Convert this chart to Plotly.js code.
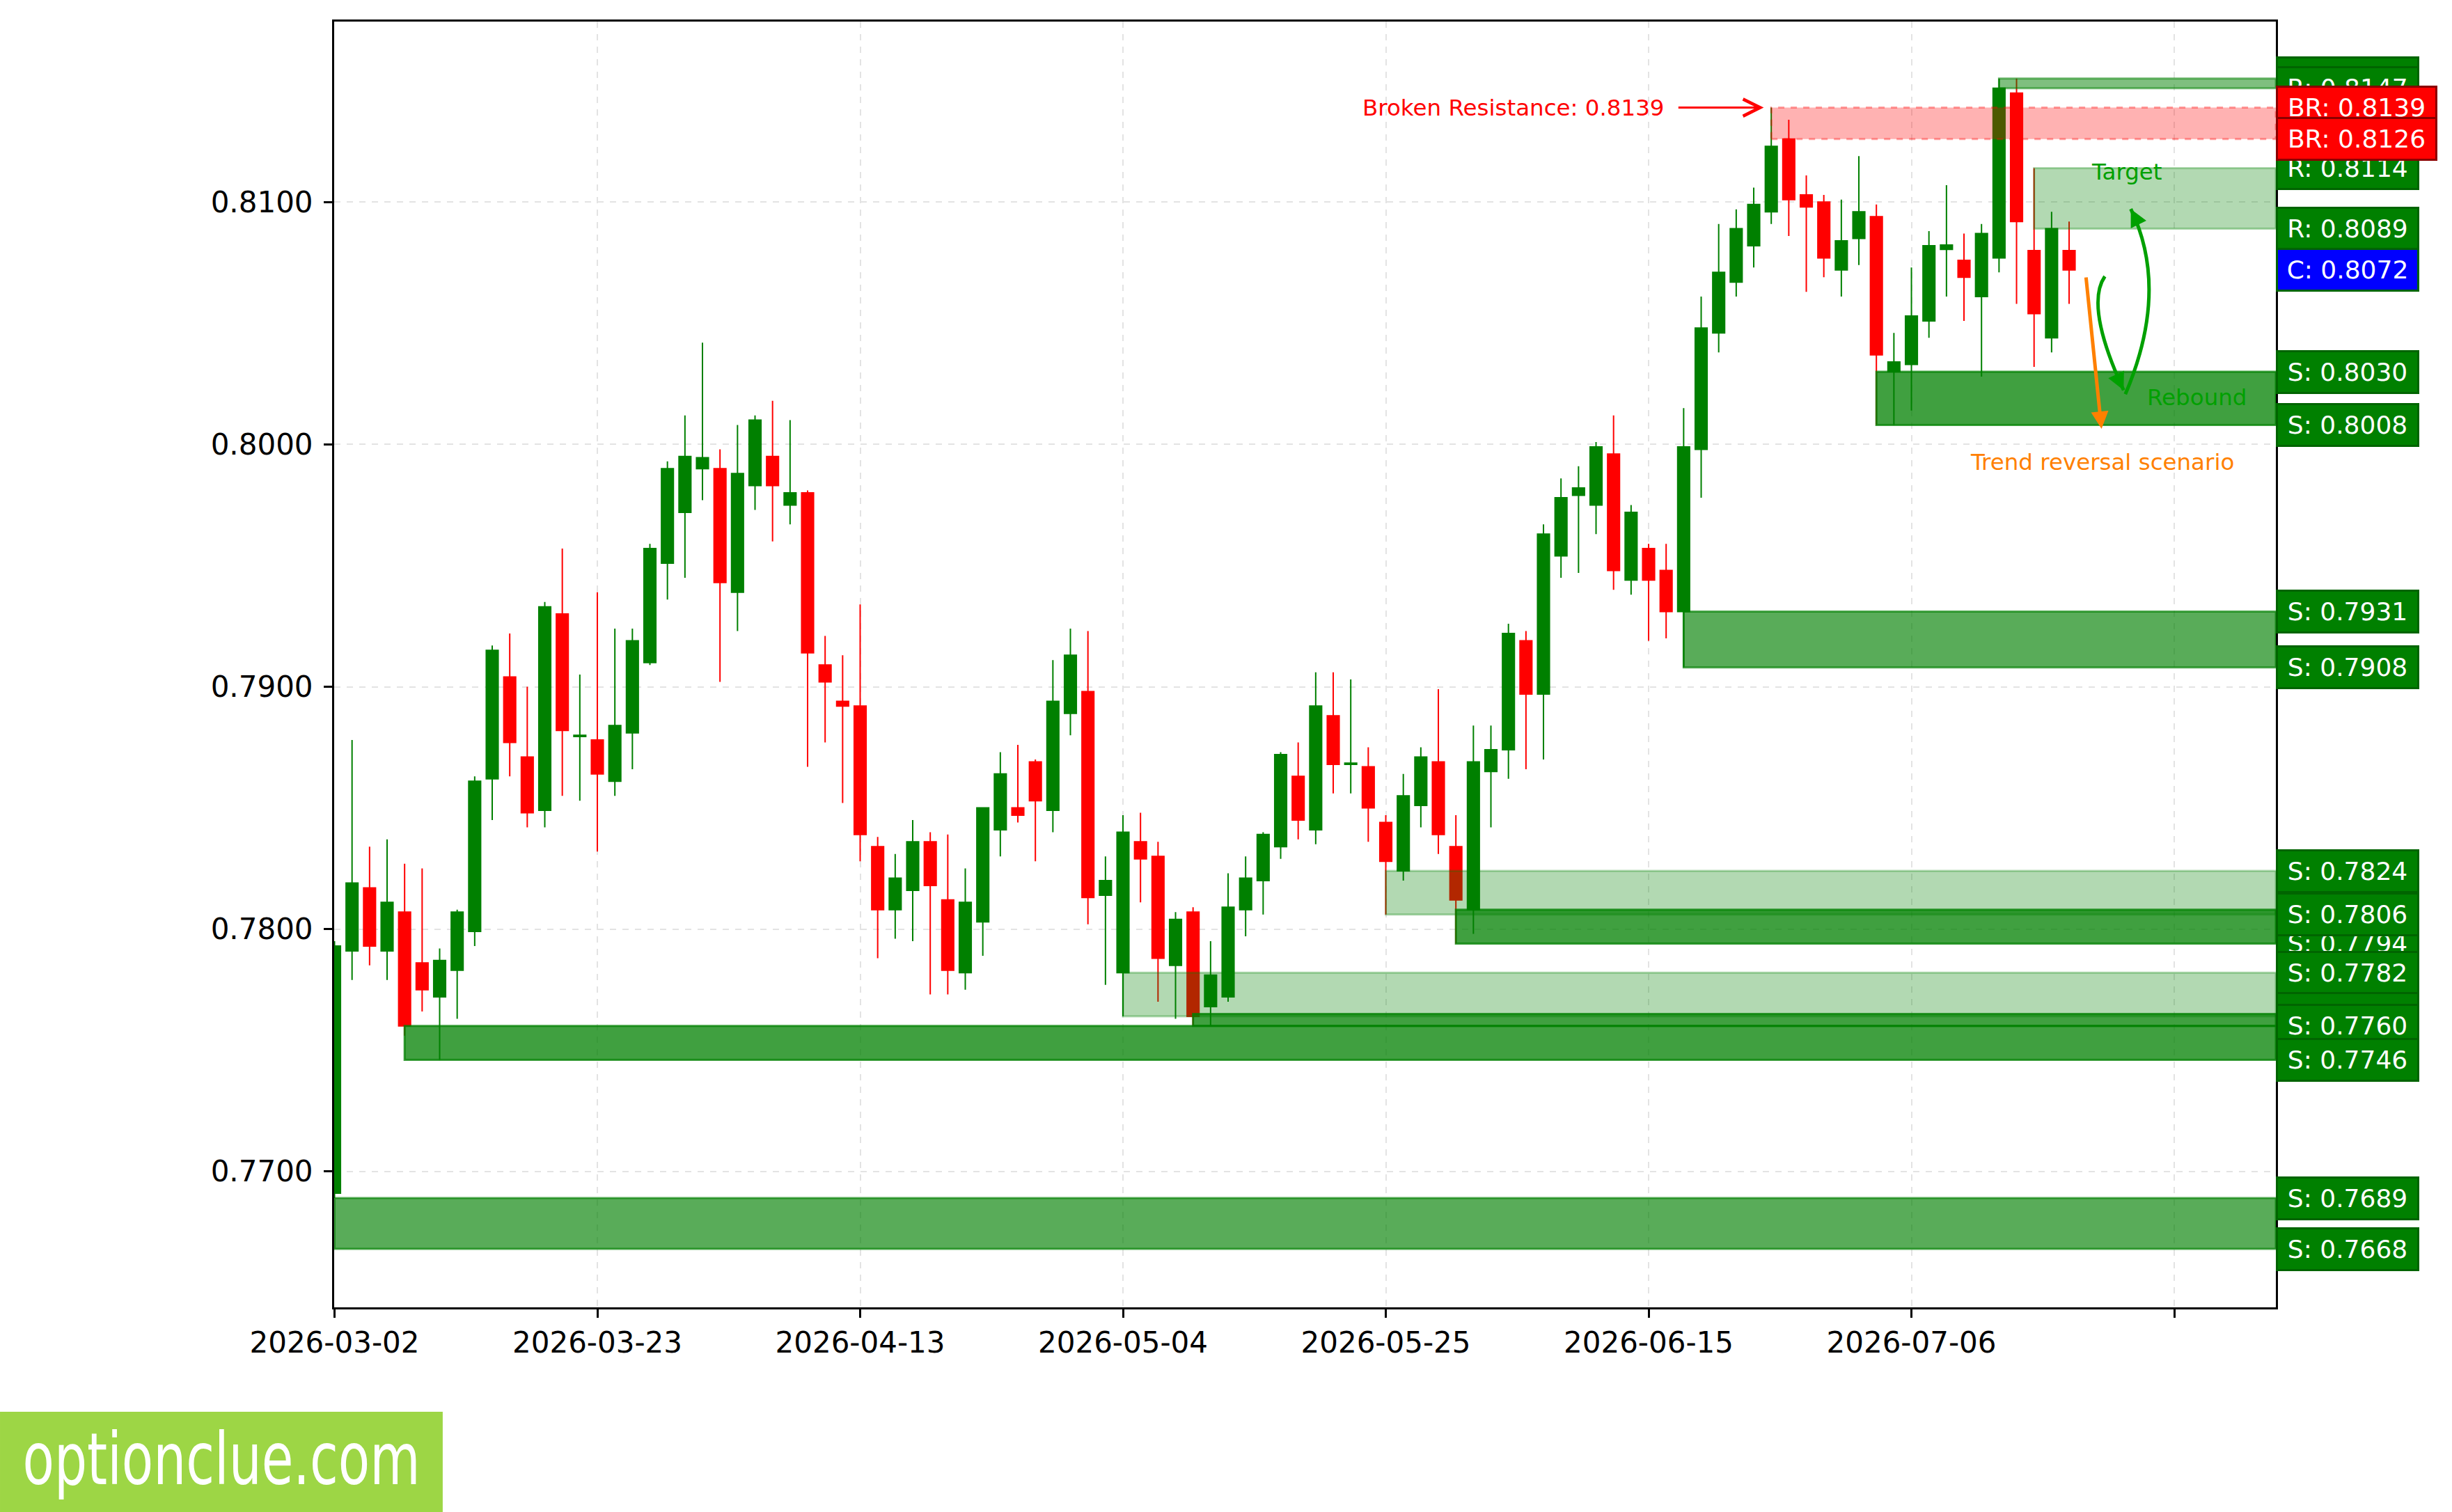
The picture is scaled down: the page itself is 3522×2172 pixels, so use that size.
<!DOCTYPE html>
<html>
<head>
<meta charset="utf-8">
<script src="https://cdn.plot.ly/plotly-3.0.1.min.js"></script>
<style>
html, body { margin: 0; padding: 0; background: #ffffff; }
#chart { width: 3522px; height: 2172px; }
</style>
</head>
<body>
<div id="chart"></div>
<script>
// ---------------- DATA ----------------
const opens = [
0.7691,0.7791,0.7817,0.7791,0.7807,0.7786,0.7772,0.7783,0.7799,0.7862,
0.7904,0.7871,0.7849,0.7930,0.78795,0.7878,0.7861,0.7881,0.7910,0.7951,
0.7972,0.7990,0.7990,0.7939,0.7983,0.7995,0.7975,0.7980,0.7909,0.7894,
0.7892,0.7834,0.7808,0.7816,0.7836,0.7812,0.7782,0.7803,0.7841,0.7850,
0.7869,0.7849,0.7889,0.7898,0.7814,0.7782,0.7836,0.7830,0.7785,0.7807,
0.7768,0.7772,0.7808,0.7820,0.7834,0.7863,0.7841,0.7888,0.7868,0.7867,
0.7844,0.7824,0.7851,0.7869,0.7834,0.7808,0.7865,0.7874,0.7919,0.7897,
0.7954,0.7979,0.7975,0.7996,0.7944,0.7957,0.7948,0.7931,0.7998,0.8046,
0.8067,0.8082,0.8096,0.8126,0.8103,0.8100,0.8072,0.8085,0.8094,0.8030,
0.8033,0.8051,0.80805,0.8076,0.8061,0.8077,0.8145,0.8080,0.8044,0.8080
];
const highs = [
0.7795,0.7878,0.7834,0.7837,0.7827,0.7825,0.7792,0.7808,0.7863,0.7917,
0.7922,0.7900,0.7935,0.7957,0.7905,0.7939,0.7924,0.7924,0.7959,0.7993,
0.8012,0.8042,0.7998,0.8008,0.8012,0.8018,0.8010,0.7981,0.7921,0.7913,
0.7934,0.7838,0.7831,0.7845,0.7840,0.7839,0.7825,0.7850,0.7873,0.7876,
0.7870,0.7911,0.7924,0.7923,0.7830,0.7847,0.7848,0.7836,0.7807,0.7809,
0.7795,0.7823,0.7830,0.7840,0.7873,0.7877,0.7906,0.7906,0.7903,0.7875,
0.7847,0.7864,0.7875,0.7899,0.7847,0.7884,0.7884,0.7926,0.7923,0.7967,
0.7986,0.7991,0.8001,0.8012,0.7975,0.7959,0.7959,0.8015,0.8061,0.8091,
0.8097,0.8106,0.8139,0.8134,0.8111,0.8103,0.8101,0.8119,0.8099,0.8046,
0.8073,0.8088,0.8107,0.8087,0.8091,0.8151,0.8151,0.8114,0.8096,0.8092
];
const lows = [
0.7689,0.7779,0.7785,0.7779,0.7756,0.7766,0.7746,0.7763,0.7793,0.7845,
0.7863,0.7842,0.7842,0.7855,0.7853,0.7832,0.7855,0.7866,0.7909,0.7936,
0.7945,0.7977,0.7902,0.7923,0.7973,0.7960,0.7967,0.7867,0.7877,0.7852,
0.7828,0.7788,0.7796,0.7795,0.7773,0.7773,0.7775,0.7789,0.7830,0.7844,
0.7828,0.7840,0.7880,0.7802,0.7777,0.7764,0.7811,0.7770,0.7763,0.7760,
0.7760,0.7770,0.7797,0.7806,0.7829,0.7837,0.7835,0.7856,0.7856,0.7836,
0.7806,0.7820,0.7842,0.7831,0.7794,0.7798,0.7842,0.7862,0.7866,0.7870,
0.7945,0.7947,0.7963,0.7940,0.7938,0.7919,0.7920,0.7908,0.7978,0.8038,
0.8061,0.8073,0.8091,0.8086,0.8063,0.8069,0.8061,0.8074,0.8008,0.8008,
0.8014,0.8044,0.8061,0.8051,0.8028,0.8071,0.8058,0.8032,0.8038,0.8058
];
const closes = [
0.7793,0.7819,0.7793,0.7811,0.7760,0.7775,0.7787,0.7807,0.7861,0.7915,
0.7877,0.7848,0.7933,0.7882,0.7880,0.7864,0.7884,0.7919,0.7957,0.7990,
0.7995,0.79945,0.7943,0.7988,0.8010,0.7983,0.7980,0.7914,0.7902,0.7892,
0.7839,0.7808,0.7821,0.7836,0.7818,0.7783,0.7811,0.7850,0.7864,0.7847,
0.7853,0.7894,0.7913,0.7813,0.7820,0.7840,0.7829,0.7788,0.7804,0.7764,
0.7781,0.7809,0.7821,0.7839,0.7872,0.7845,0.7892,0.7868,0.78685,0.7850,
0.7828,0.7855,0.7871,0.7839,0.7812,0.7869,0.7874,0.7922,0.7897,0.7963,
0.7978,0.7982,0.7999,0.7948,0.7972,0.7944,0.7931,0.7999,0.8048,0.8071,
0.8089,0.8099,0.8123,0.8101,0.8098,0.8077,0.8084,0.8096,0.8037,0.8034,
0.8053,0.8082,0.80823,0.8069,0.8087,0.8147,0.8092,0.8054,0.8089,0.8072
];

// x-axis ticks (bar index -> date label)
const tickIndex = [0, 15, 30, 45, 60, 75, 90, 105];
const tickDates = ['2026-03-02','2026-03-23','2026-04-13','2026-05-04','2026-05-25','2026-06-15','2026-07-06',''];
const priceTicks = [0.77, 0.78, 0.79, 0.80, 0.81];

// Support / resistance zones (in drawing order)
const zoneType     = ['R',    'R',    'BR',   'S',    'S',    'S',    'S',    'S',    'S',    'S',    'S'];
const zoneStart    = [95,     97,     82,     88,     77,     64,     60,     45,     49,     4,      0];
const zoneLow      = [0.8147, 0.8089, 0.8126, 0.8008, 0.7908, 0.7794, 0.7806, 0.7764, 0.7760, 0.7746, 0.7668];
const zoneHigh     = [0.8151, 0.8114, 0.8139, 0.8030, 0.7931, 0.7808, 0.7824, 0.7782, 0.7765, 0.7760, 0.7689];
const zoneStrength = [2,      1,      1,      4,      3,      4,      1,      1,      4,      4,      3];

// Scenario notes
const noteText = ['Target', 'Rebound', 'Trend reversal scenario'];
const noteX    = [102.3, 106.3, 100.9];
const noteY    = [0.81125, 0.80194, 0.79927];

// ---------------- STYLE ----------------
const FONT = 'DejaVu Sans, Liberation Sans, sans-serif';
const X_RANGE = [-0.02, 110.8];
const Y_RANGE = [0.76439, 0.81745];
const GREEN = '#008000', RED = '#ff0000';
const NOTE_GREEN = '#00a000', ORANGE = '#ff8000';
const strengthAlpha = {1: 0.3, 2: 0.5, 3: 0.65, 4: 0.75};

const idx = opens.map((_, i) => i);

const candle = {
  type: 'candlestick',
  x: idx, open: opens, high: highs, low: lows, close: closes,
  increasing: {line: {color: GREEN, width: 2}, fillcolor: GREEN},
  decreasing: {line: {color: RED, width: 2}, fillcolor: RED},
  whiskerwidth: 0,
  hoverinfo: 'skip',
  showlegend: false
};

const shapes = [];
const annotations = [];

// zones
zoneStart.forEach((s, k) => {
  const broken = zoneType[k] === 'BR';
  const a = broken ? 0.3 : strengthAlpha[zoneStrength[k]];
  const rgb = broken ? '255,0,0' : '0,128,0';
  shapes.push({
    type: 'rect', xref: 'x', yref: 'y', layer: 'above',
    x0: s, x1: X_RANGE[1], y0: zoneLow[k], y1: zoneHigh[k],
    fillcolor: `rgba(${rgb},${a})`,
    line: {color: `rgba(${rgb},${broken ? 0.35 : a})`, width: 3, dash: broken ? 'dash' : 'solid'}
  });
});

// right-side price labels (top edge then bottom edge of each zone, then current close)
const labelStyle = {
  R:  {bg: GREEN, border: '#006400', w: 196},
  S:  {bg: GREEN, border: '#006400', w: 196},
  BR: {bg: RED, border: '#8b0000', w: 222},
  C:  {bg: '#0000ff', border: '#006400', w: 196}
};
function priceLabel(kind, v) {
  const st = labelStyle[kind];
  annotations.push({
    xref: 'paper', yref: 'y', x: 1, y: v, xanchor: 'left', yanchor: 'middle',
    text: kind + ': ' + v.toFixed(4), showarrow: false,
    font: {family: FONT, size: 36, color: '#ffffff'},
    bgcolor: st.bg, bordercolor: st.border, borderwidth: 3, borderpad: 2,
    width: st.w, height: 53, align: 'center', valign: 'middle'
  });
}
zoneStart.forEach((s, k) => {
  priceLabel(zoneType[k], zoneHigh[k]);
  priceLabel(zoneType[k], zoneLow[k]);
});
priceLabel('C', closes[closes.length - 1]);

// broken resistance callout
const brK = zoneType.indexOf('BR');
annotations.push({
  xref: 'x', yref: 'y', x: 76.0, y: zoneHigh[brK], xanchor: 'right', yanchor: 'middle',
  text: 'Broken Resistance: ' + zoneHigh[brK].toFixed(4), showarrow: false,
  font: {family: FONT, size: 32.5, color: RED}
});
annotations.push({
  xref: 'x', yref: 'y', x: 81.57, y: zoneHigh[brK], axref: 'x', ayref: 'y', ax: 76.64, ay: zoneHigh[brK],
  text: '', showarrow: true, arrowhead: 5, arrowsize: 1.6, arrowwidth: 3, arrowcolor: RED, standoff: 0
});

// scenario notes
const noteColor = [NOTE_GREEN, NOTE_GREEN, ORANGE];
noteText.forEach((t, k) => {
  annotations.push({
    xref: 'x', yref: 'y', x: noteX[k], y: noteY[k], xanchor: 'center', yanchor: 'middle',
    text: t, showarrow: false, font: {family: FONT, size: 32.5, color: noteColor[k]}
  });
});

// scenario arrows (curved rebound arrows + straight reversal arrow)
shapes.push({type: 'path', xref: 'x', yref: 'y', layer: 'above',
  path: 'M101.04,0.806935 Q99.89,0.805727 102.11,0.802238',
  line: {color: NOTE_GREEN, width: 5}});
shapes.push({type: 'path', xref: 'x', yref: 'y', layer: 'above',
  path: 'M102.21,0.802071 Q104.75,0.806389 102.52,0.809718',
  line: {color: NOTE_GREEN, width: 5}});
annotations.push({xref: 'x', yref: 'y', x: 102.11, y: 0.802238, ax: -9, ay: -19,
  text: '', showarrow: true, arrowhead: 2, arrowsize: 1, arrowwidth: 5, arrowcolor: NOTE_GREEN, standoff: 0});
annotations.push({xref: 'x', yref: 'y', x: 102.52, y: 0.809718, ax: 9, ay: 18,
  text: '', showarrow: true, arrowhead: 2, arrowsize: 1, arrowwidth: 5, arrowcolor: NOTE_GREEN, standoff: 0});
annotations.push({xref: 'x', yref: 'y', x: 100.85, y: 0.800641, axref: 'x', ayref: 'y', ax: 99.96, ay: 0.806935,
  text: '', showarrow: true, arrowhead: 2, arrowsize: 1, arrowwidth: 5, arrowcolor: ORANGE, standoff: 0});

// watermark
const WATERMARK = 'optionclue.com';
shapes.push({type: 'rect', xref: 'paper', yref: 'paper', x0: -0.1721, x1: 0.0559, y0: -0.1592, y1: -0.0812,
  fillcolor: '#9dd645', line: {width: 0}, layer: 'above'});
annotations.push({xref: 'paper', yref: 'paper', x: -0.0581, y: -0.1180, xanchor: 'center', yanchor: 'middle',
  text: WATERMARK, showarrow: false, font: {family: FONT, size: 104, color: '#ffffff'}});

const axisCommon = {
  showline: true, linecolor: '#000000', linewidth: 3, mirror: true,
  ticks: 'outside', ticklen: 12, tickwidth: 3, tickcolor: '#000000',
  showgrid: true, gridcolor: '#e3e3e3', gridwidth: 2, griddash: 'dash',
  zeroline: false, automargin: false,
  tickfont: {family: FONT, size: 42, color: '#000000'}
};

const layout = {
  width: 3522, height: 2172,
  margin: {l: 480, r: 253, t: 31, b: 294, pad: 0},
  paper_bgcolor: '#ffffff', plot_bgcolor: '#ffffff',
  showlegend: false,
  boxgap: 0.32, boxgroupgap: 0,
  xaxis: Object.assign({}, axisCommon, {
    type: 'linear', range: X_RANGE, tickmode: 'array', tickvals: tickIndex, ticktext: tickDates,
    rangeslider: {visible: false}
  }),
  yaxis: Object.assign({}, axisCommon, {
    range: Y_RANGE, tickmode: 'array', tickvals: priceTicks,
    ticktext: priceTicks.map(v => v.toFixed(4)), ticklabelstandoff: 7
  }),
  shapes: shapes,
  annotations: annotations
};

Plotly.newPlot('chart', [candle], layout, {staticPlot: true, displayModeBar: false}).then(gd => {
  // the watermark lettering is a narrow face: squeeze the real text into the logo width
  gd.querySelectorAll('.annotation-text').forEach(t => {
    if (t.textContent === WATERMARK) {
      t.setAttribute('textLength', '571');
      t.setAttribute('lengthAdjust', 'spacingAndGlyphs');
    }
  });
});
</script>
</body>
</html>
